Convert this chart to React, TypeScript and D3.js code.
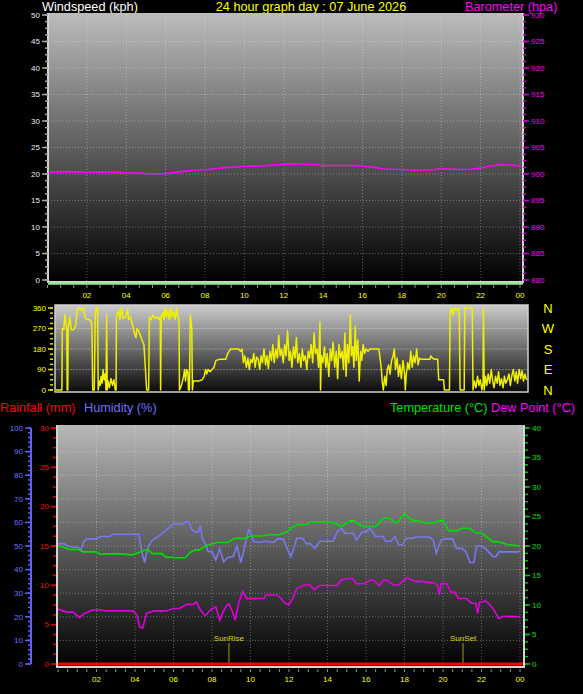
import React from "react";
import * as d3 from "d3";

const W = 583;
const H = 694;
const FONT = "Liberation Sans, Arial, sans-serif";

// ---- tick labels ----
const hourTicks = [2, 4, 6, 8, 10, 12, 14, 16, 18, 20, 22, 24];
const hourLabels = ["02", "04", "06", "08", "10", "12", "14", "16", "18", "20", "22", "00"];
const windSpeedTicks = [0, 5, 10, 15, 20, 25, 30, 35, 40, 45, 50];
const baroTicks = [880, 885, 890, 895, 900, 905, 910, 915, 920, 925, 930];
const dirTicks = [0, 90, 180, 270, 360];
const compassLabels = ["N", "E", "S", "W", "N"];
const humidityTicks = [0, 10, 20, 30, 40, 50, 60, 70, 80, 90, 100];
const rainTicks = [0, 5, 10, 15, 20, 25, 30];
const tempTicks = [0, 5, 10, 15, 20, 25, 30, 35, 40];

// ---- top chart ----
const windSpeedHours = [0, 24];
const windSpeedValues = [0, 0];

const baroHours = [0, 0.5, 1, 1.5, 2, 2.5, 3, 3.5, 4, 4.5, 5, 5.5, 6, 6.5, 7, 7.5, 8, 8.5, 9, 9.5, 10, 10.5, 11, 11.5, 12, 12.5, 13, 13.5, 14, 14.5, 15, 15.5, 16, 16.5, 17, 17.5, 18, 18.5, 19, 19.5, 20, 20.5, 21, 21.5, 22, 22.5, 23, 23.5, 24];
const baroValues = [900.3, 900.4, 900.45, 900.4, 900.3, 900.35, 900.35, 900.3, 900.25, 900.25, 900.1, 900.0, 900.1, 900.3, 900.55, 900.7, 900.8, 901.0, 901.2, 901.3, 901.45, 901.45, 901.55, 901.7, 901.8, 901.95, 901.85, 901.8, 901.6, 901.6, 901.6, 901.6, 901.5, 901.3, 901.0, 900.9, 900.85, 900.7, 900.7, 900.8, 901.0, 900.95, 900.85, 900.9, 901.1, 901.5, 901.75, 901.7, 901.5];

// ---- wind direction ----
const windDirHours = [
  0, 0.3, 0.32, 0.4, 0.45, 0.5, 0.55, 0.57, 0.6, 0.62, 0.7, 0.78, 0.9, 1.0, 1.08, 1.2, 1.3, 1.4, 1.48, 1.55, 1.7, 1.8, 1.83, 1.87, 1.95,
  2.0, 2.05, 2.12, 2.15, 2.2, 2.25, 2.3, 2.35, 2.4, 2.45, 2.5, 2.55, 2.58, 2.61, 2.65, 2.72, 2.8, 2.88, 2.95, 3.02, 3.06, 3.08, 3.2, 3.25,
  3.35, 3.4, 3.55, 3.65, 3.7, 3.8, 3.85, 3.95, 4.02, 4.08, 4.12, 4.2, 4.3, 4.4, 4.48, 4.55, 4.62, 4.72, 4.76, 4.85, 4.95, 5.05, 5.15, 5.25,
  5.31, 5.33, 5.36, 5.45, 5.5, 5.55, 5.62, 5.7, 5.78, 5.85, 5.92, 6.0, 6.08, 6.15, 6.22, 6.27, 6.29, 6.35, 6.42, 6.5, 6.55, 6.6, 6.66, 6.72,
  6.75, 6.8, 6.84, 6.88, 6.92, 6.95, 7.0, 7.3, 7.45, 7.55, 7.62, 7.68, 7.75, 7.85, 7.95, 8.05, 8.15, 8.35, 8.65, 8.75, 8.9, 9.3, 9.4, 9.48,
  9.55, 9.62, 9.7, 9.78, 9.85, 9.92, 10.0, 10.08, 10.15, 10.22, 10.3, 10.38, 10.45, 10.52, 10.6, 10.68, 10.75, 10.82, 10.9, 10.98, 11.05,
  11.12, 11.2, 11.28, 11.35, 11.42, 11.5, 11.58, 11.65, 11.72, 11.8, 11.88, 11.95, 12.02, 12.1, 12.18, 12.25, 12.32, 12.4, 12.48, 12.55,
  12.62, 12.7, 12.78, 12.85, 12.92, 13.0, 13.08, 13.15, 13.22, 13.3, 13.38, 13.45, 13.48, 13.52, 13.6, 13.68, 13.75, 13.82, 13.9, 13.98,
  14.05, 14.12, 14.2, 14.28, 14.35, 14.42, 14.5, 14.58, 14.65, 14.72, 14.78, 14.85, 14.92, 15.0, 15.05, 15.12, 15.18, 15.25, 15.3, 15.38,
  15.45, 15.52, 15.58, 15.65, 15.72, 15.8, 15.9, 16.0, 16.45, 16.5, 16.58, 16.62, 16.68, 16.75, 16.82, 16.88, 16.95, 17.02, 17.1, 17.18,
  17.24, 17.3, 17.38, 17.45, 17.52, 17.6, 17.68, 17.75, 17.8, 17.85, 17.92, 18.0, 18.08, 18.15, 18.22, 18.3, 18.38, 18.45, 18.52, 18.6,
  19.05, 19.1, 19.18, 19.3, 19.45, 19.5, 19.75, 19.79, 20.05, 20.08, 20.15, 20.22, 20.3, 20.4, 20.5, 20.55, 20.59, 20.8, 20.83, 21.18,
  21.21, 21.25, 21.32, 21.4, 21.48, 21.55, 21.62, 21.7, 21.76, 21.78, 21.82, 21.88, 21.95, 22.02, 22.1, 22.18, 22.25, 22.32, 22.4, 22.48,
  22.55, 22.62, 22.7, 22.78, 22.85, 22.92, 23.0, 23.08, 23.15, 23.22, 23.3, 23.38, 23.45, 23.52, 23.6, 23.68, 23.75, 23.82, 23.9, 23.95, 24.0,
];
const windDirValues = [
  0, 0, 270, 265, 330, 300, 270, 0, 0, 270, 320, 265, 265, 280, 350, 360, 350, 360, 320, 310, 310, 300, 270, 0, 0,
  330, 360, 360, 0, 40, 20, 60, 30, 90, 45, 70, 0, 330, 0, 40, 10, 50, 20, 45, 0, 0, 320, 350, 310,
  360, 315, 320, 355, 310, 320, 300, 270, 240, 230, 270, 260, 240, 215, 200, 100, 0, 0, 320, 310, 330, 315, 320, 310,
  320, 0, 320, 340, 310, 360, 320, 350, 310, 360, 320, 345, 310, 360, 320, 310, 0, 10, 30, 60, 90, 40, 90, 80,
  0, 0, 330, 300, 270, 0, 40, 40, 45, 60, 90, 70, 90, 80, 90, 100, 130, 135, 135, 160, 180, 180, 170, 180,
  120, 150, 100, 140, 90, 135, 120, 160, 100, 145, 135, 90, 150, 120, 180, 110, 150, 95, 170, 130, 200,
  120, 180, 140, 240, 150, 180, 120, 200, 150, 260, 130, 170, 100, 190, 140, 230, 120, 160, 100, 180,
  130, 150, 90, 170, 140, 200, 120, 250, 160, 180, 100, 300, 0, 150, 120, 190, 100, 160, 60, 180,
  130, 210, 100, 170, 50, 200, 140, 170, 90, 250, 60, 200, 120, 330, 150, 190, 100, 280, 130, 220,
  40, 170, 130, 200, 160, 180, 170, 180, 180, 150, 90, 40, 0, 60, 20, 90, 110, 70, 130, 150,
  180, 90, 140, 60, 110, 50, 130, 80, 0, 70, 120, 90, 170, 100, 150, 120, 180, 110, 140, 135,
  135, 150, 140, 135, 135, 45, 45, 0, 0, 340, 360, 330, 360, 350, 360, 330, 0, 0, 360, 360,
  360, 0, 40, 10, 60, 20, 45, 0, 30, 360, 0, 60, 20, 70, 30, 90, 40, 10, 60, 30,
  80, 20, 50, 10, 60, 30, 45, 70, 20, 60, 90, 40, 80, 30, 90, 50, 85, 40, 70, 50, 45,
];

// ---- bottom chart ----
const rainHours = [0, 24];
const rainValues = [0, 0];

const humidityHours = [0, 0.3, 0.5, 0.8, 1.0, 1.2, 1.35, 1.5, 2.0, 2.2, 2.7, 2.85, 3.5, 4.2, 4.3, 4.4, 4.5, 4.6, 4.7, 4.9, 5.2, 5.5, 5.8, 6.0, 6.5, 6.6, 6.8, 6.95, 7.1, 7.3, 7.4, 7.5, 7.65, 7.8, 8.0, 8.2, 8.4, 8.6, 8.8, 9.1, 9.3, 9.5, 9.7, 9.9, 10.05, 10.15, 10.4, 10.8, 11.2, 11.4, 11.7, 11.9, 12.1, 12.25, 12.4, 12.7, 12.9, 13.1, 13.35, 13.6, 13.8, 14.3, 14.5, 14.75, 14.9, 15.35, 15.5, 15.8, 16.0, 16.2, 16.5, 16.9, 17.0, 17.3, 17.5, 17.7, 17.9, 18.1, 18.4, 18.6, 19.3, 19.5, 19.65, 19.9, 20.1, 20.5, 20.7, 21.0, 21.2, 21.4, 21.6, 21.75, 22.0, 22.2, 22.6, 22.75, 22.9, 23.9, 24.0];
const humidityValues = [51, 51, 50, 49.5, 49.5, 48.5, 52, 53, 53, 54, 54, 55, 55, 55, 50, 46, 43, 47, 50, 52.5, 54, 56, 58, 59.3, 59.3, 60.3, 60.3, 57, 56, 56, 58.7, 53, 51, 47.6, 47.6, 44, 49, 43.3, 45, 45.5, 50, 43, 50, 56.8, 55, 52, 51.5, 52, 51.5, 53, 53, 49, 45.5, 49, 53.3, 53.3, 51, 51, 49, 52, 52, 52, 56, 57.5, 55.4, 55.4, 52.5, 56, 56, 57.5, 54, 54, 52, 52, 54, 50.5, 50.5, 53.3, 53.3, 53.8, 53.8, 52.5, 47, 52.5, 53, 53, 49, 49, 47.5, 43, 43, 50, 50, 49, 45.5, 45.5, 47.5, 47.5, 48];

const tempHours = [0, 0.3, 0.6, 1.1, 1.3, 2.0, 2.2, 3.0, 3.9, 4.2, 4.5, 4.7, 4.9, 5.4, 5.6, 5.9, 6.1, 6.6, 6.9, 7.1, 7.3, 7.8, 8.3, 8.8, 9.2, 9.7, 10.0, 10.6, 11.0, 11.5, 11.9, 12.1, 12.4, 12.9, 13.1, 13.8, 14.0, 14.3, 14.7, 15.2, 15.35, 15.8, 16.0, 16.5, 16.9, 17.2, 17.6, 18.0, 18.4, 18.7, 19.1, 19.5, 19.8, 20.0, 20.3, 20.7, 21.0, 21.4, 21.7, 22.0, 22.6, 22.9, 23.4, 24.0];
const tempValues = [20.0, 19.8, 19.4, 19.4, 19.0, 19.0, 18.6, 18.7, 18.5, 18.9, 19.3, 19.3, 18.7, 18.7, 18.1, 18.1, 18.0, 18.0, 19.0, 19.3, 19.3, 20.2, 20.6, 20.6, 21.3, 21.3, 21.7, 21.7, 21.9, 21.9, 22.4, 23.0, 23.6, 23.6, 24.1, 24.1, 24.0, 24.0, 23.3, 24.3, 24.3, 23.3, 23.3, 23.3, 24.7, 24.7, 23.9, 25.5, 24.3, 24.3, 23.9, 23.9, 24.3, 24.3, 22.6, 22.6, 23.0, 23.0, 22.2, 22.2, 20.7, 20.7, 20.2, 20.0];

const dewHours = [0, 0.45, 0.8, 1.1, 1.4, 1.8, 2.2, 2.5, 3.9, 4.1, 4.25, 4.4, 4.6, 5.0, 5.6, 6.0, 6.3, 6.7, 7.0, 7.2, 7.4, 7.6, 7.7, 7.9, 8.2, 8.4, 8.6, 8.8, 8.9, 9.1, 9.2, 9.4, 9.6, 9.8, 10.7, 10.8, 11.4, 11.5, 11.8, 12.0, 12.2, 12.4, 12.8, 13.1, 13.3, 13.6, 14.5, 14.7, 15.0, 15.3, 15.5, 15.9, 16.2, 16.4, 16.7, 16.9, 17.1, 17.4, 17.7, 18.1, 18.6, 18.9, 19.2, 19.5, 19.7, 19.8, 19.9, 20.2, 20.4, 20.6, 20.8, 21.2, 21.5, 21.7, 21.8, 21.9, 22.1, 22.2, 22.6, 22.9, 23.1, 24.0];
const dewValues = [9.3, 8.8, 8.8, 7.85, 8.6, 9.15, 9.15, 9.0, 9.0, 8.3, 6.2, 6.1, 8.6, 9.0, 9.0, 9.4, 9.4, 10.1, 10.1, 10.5, 9.15, 8.3, 8.3, 9.15, 9.7, 7.45, 9.0, 10.1, 10.1, 8.6, 7.45, 10.5, 12.25, 11.1, 11.1, 11.7, 11.7, 11.4, 10.3, 10.0, 11.2, 12.8, 13.4, 13.4, 12.6, 13.3, 13.3, 14.2, 14.5, 14.5, 13.6, 13.6, 14.2, 14.2, 13.3, 14.2, 14.2, 13.4, 13.4, 14.6, 14.0, 14.0, 13.8, 13.8, 13.4, 11.7, 13.6, 13.6, 12.2, 12.2, 11.1, 11.1, 10.3, 10.3, 8.6, 10.5, 10.5, 10.8, 9.4, 7.7, 8.1, 8.0];

const sunLabels = ["SunRise", "SunSet"];
const sunHours = [8.88, 21.04];

type Scale = d3.ScaleLinear<number, number>;

function seriesPath(hours: number[], values: number[], xs: Scale, ys: Scale) {
  return (
    d3
      .line<number>()
      .x((_, i) => xs(hours[i]))
      .y((v) => ys(v))(values) || ""
  );
}

interface VAxisProps {
  scale: Scale;
  majors: number[];
  minorStep: number;
  x: number;
  side: "left" | "right";
  tickColor: string;
  labelColor: string;
  majorLen?: number;
  minorLen?: number;
  labels?: string[];
}

function VAxis({ scale, majors, minorStep, x, side, tickColor, labelColor, majorLen = 6, minorLen = 3, labels }: VAxisProps) {
  const [d0, d1] = scale.domain();
  const minors = d3.range(d0, d1 + 1e-6, minorStep);
  const dir = side === "left" ? -1 : 1;
  return (
    <g>
      {minors.map((v, i) => (
        <line key={"m" + i} x1={x} x2={x + dir * minorLen} y1={scale(v)} y2={scale(v)} stroke={tickColor} strokeWidth={1.5} />
      ))}
      {majors.map((v, i) => (
        <g key={"M" + i}>
          <line x1={x} x2={x + dir * majorLen} y1={scale(v)} y2={scale(v)} stroke={tickColor} strokeWidth={1.5} />
          <text
            x={x + dir * (majorLen + 2)}
            y={scale(v)}
            dy="0.35em"
            textAnchor={side === "left" ? "end" : "start"}
            fill={labelColor}
            fontSize={8}
          >
            {labels ? labels[i] : v}
          </text>
        </g>
      ))}
    </g>
  );
}

interface PlotFrameProps {
  id: string;
  x0: number;
  x1: number;
  y0: number;
  y1: number;
  top: string;
  bottom: string;
}

function PlotFrame({ id, x0, x1, y0, y1, top, bottom }: PlotFrameProps) {
  return (
    <g>
      <defs>
        <linearGradient id={id} x1="0" y1="0" x2="0" y2="1">
          <stop offset="0%" stopColor={top} />
          <stop offset="100%" stopColor={bottom} />
        </linearGradient>
      </defs>
      <rect x={x0} y={y0} width={x1 - x0} height={y1 - y0} fill={`url(#${id})`} />
    </g>
  );
}

function Border({ x0, x1, y0, y1 }: { x0: number; x1: number; y0: number; y1: number }) {
  return (
    <path
      d={`M${x0},${y0} L${x0},${y1} L${x1},${y1} L${x1},${y0}`}
      fill="none"
      stroke="#d4d4d4"
      strokeWidth={2}
    />
  );
}

export default function App() {
  // top chart
  const topBox = { x0: 48, x1: 523, y0: 13, y1: 282 };
  const xTop = d3.scaleLinear().domain([0, 24]).range([47.5, 520]);
  const yWind = d3.scaleLinear().domain([0, 50]).range([280, 15]);
  const yBaro = d3.scaleLinear().domain([880, 930]).range([280, 15]);

  // middle chart
  const midBox = { x0: 55, x1: 528, y0: 305, y1: 392 };
  const xMid = d3.scaleLinear().domain([0, 24]).range([56, 527]);
  const yDir = d3.scaleLinear().domain([0, 360]).range([390, 308]);

  // bottom chart
  const botBox = { x0: 57, x1: 524, y0: 425, y1: 667 };
  const xBot = d3.scaleLinear().domain([0, 24]).range([58, 520]);
  const yHum = d3.scaleLinear().domain([0, 100]).range([664, 428]);
  const yRain = d3.scaleLinear().domain([0, 30]).range([664, 428]);
  const yTemp = d3.scaleLinear().domain([0, 40]).range([664, 428]);

  const grid = { stroke: "#ffffff", strokeOpacity: 0.32, strokeDasharray: "1 2", strokeWidth: 1 };

  const topMinorX = d3.range(0, 24.01, 2 / 3);
  const botMinorX = d3.range(0, 24.01, 0.5);
  const head = 12.7;

  return (
    <>
      <style>{`body{margin:0;background:#000}`}</style>
      <svg width={W} height={H} style={{ display: "block", background: "#000", fontFamily: FONT }}>
        <rect width={W} height={H} fill="#000" />

        {/* ---------- top chart ---------- */}
        <text x={42} y={10.5} fill="#ffffff" fontSize={head}>Windspeed (kph)</text>
        <text x={311} y={10.5} fill="#ffff00" fontSize={head} textAnchor="middle">24 hour graph day : 07 June 2026</text>
        <text x={465} y={10.5} fill="#ff00ff" fontSize={head}>Barometer (hpa)</text>

        <PlotFrame id="gTop" {...topBox} top="#bcbcbc" bottom="#000000" />
        {windSpeedTicks.slice(1, -1).map((v) => (
          <line key={"gw" + v} x1={topBox.x0} x2={topBox.x1} y1={yWind(v)} y2={yWind(v)} {...grid} />
        ))}
        {hourTicks.map((h) => (
          <line key={"gv" + h} x1={xTop(h)} x2={xTop(h)} y1={topBox.y0} y2={topBox.y1} {...grid} />
        ))}
        <path d={seriesPath(baroHours, baroValues, xTop, yBaro)} fill="none" stroke="#ff00ff" strokeWidth={1.6} />
        <Border {...topBox} />
        <path
          d={seriesPath(windSpeedHours, windSpeedValues, d3.scaleLinear().domain([0, 24]).range([topBox.x0, topBox.x1]), yWind.copy().range([283.5, 18.5]))}
          fill="none"
          stroke="#90e890"
          strokeWidth={2.5}
        />
        <VAxis scale={yWind} majors={windSpeedTicks} minorStep={1.25} x={48} side="left" tickColor="#a8a8a8" labelColor="#e4ecff" />
        <VAxis scale={yBaro} majors={baroTicks} minorStep={1.25} x={523} side="right" tickColor="#d000d0" labelColor="#ff00ff" />
        {topMinorX.map((h, i) => (
          <line key={"tx" + i} x1={xTop(h)} x2={xTop(h)} y1={285} y2={288} stroke="#909090" strokeWidth={1} />
        ))}
        {hourTicks.map((h, i) => (
          <text key={"tl" + h} x={xTop(h)} y={298} fill="#ffff00" fontSize={8} textAnchor="middle">{hourLabels[i]}</text>
        ))}

        {/* ---------- wind direction ---------- */}
        <PlotFrame id="gMid" {...midBox} top="#cccccc" bottom="#0a0a0a" />
        {dirTicks.slice(1, -1).map((v) => (
          <line key={"gd" + v} x1={midBox.x0} x2={midBox.x1} y1={yDir(v)} y2={yDir(v)} stroke="#ffffff" strokeOpacity={0.3} strokeDasharray="2 1" />
        ))}
        <path d={seriesPath(windDirHours, windDirValues, xMid, yDir)} fill="none" stroke="#f0f000" strokeWidth={1.5} strokeLinejoin="round" />
        <rect x={midBox.x0} y={midBox.y0} width={midBox.x1 - midBox.x0} height={midBox.y1 - midBox.y0} fill="none" stroke="#cfcfcf" strokeWidth={1.5} />
        <VAxis scale={yDir} majors={dirTicks} minorStep={22.5} x={53} side="left" tickColor="#e0e000" labelColor="#ffff00" majorLen={5} minorLen={3} />
        {dirTicks.map((v, i) => (
          <text key={"c" + i} x={548} y={yDir(v)} dy="0.36em" fill="#ffff00" fontSize={13} textAnchor="middle">{compassLabels[i]}</text>
        ))}

        {/* ---------- bottom chart ---------- */}
        <text x={0} y={412} fill="#ff0000" fontSize={head}>Rainfall (mm)</text>
        <text x={84} y={412} fill="#7070ff" fontSize={head}>Humidity (%)</text>
        <text x={390} y={412} fill="#00e000" fontSize={head}>Temperature (°C)</text>
        <text x={491} y={412} fill="#ff00ff" fontSize={head}>Dew Point (°C)</text>

        <PlotFrame id="gBot" {...botBox} top="#b8b8b8" bottom="#000000" />
        {humidityTicks.slice(1, -1).map((v) => (
          <line key={"gh" + v} x1={botBox.x0} x2={botBox.x1} y1={yHum(v)} y2={yHum(v)} {...grid} />
        ))}
        {hourTicks.map((h) => (
          <line key={"gb" + h} x1={xBot(h)} x2={xBot(h)} y1={botBox.y0} y2={botBox.y1} {...grid} />
        ))}
        {sunHours.map((h, i) => (
          <g key={"sun" + i}>
            <line x1={xBot(h)} x2={xBot(h)} y1={643} y2={botBox.y1} stroke="#a0a000" strokeWidth={1} />
            <text x={xBot(h)} y={641} fill="#d8d800" fontSize={8} textAnchor="middle">{sunLabels[i]}</text>
          </g>
        ))}
        <path d={seriesPath(humidityHours, humidityValues, xBot, yHum)} fill="none" stroke="#7878f0" strokeWidth={1.6} />
        <path d={seriesPath(tempHours, tempValues, xBot, yTemp)} fill="none" stroke="#00e000" strokeWidth={1.6} />
        <path d={seriesPath(dewHours, dewValues, xBot, yTemp)} fill="none" stroke="#e000e0" strokeWidth={1.6} />
        <path
          d={seriesPath(rainHours, rainValues, d3.scaleLinear().domain([0, 24]).range([botBox.x0, botBox.x1]), yRain)}
          fill="none"
          stroke="#ff0000"
          strokeWidth={3}
        />
        <Border {...botBox} />

        <line x1={31} x2={31} y1={yHum(100)} y2={yHum(0)} stroke="#6060ff" strokeWidth={2} />
        <VAxis scale={yHum} majors={humidityTicks} minorStep={2} x={31} side="left" tickColor="#6060ff" labelColor="#7070ff" majorLen={6} minorLen={3} />
        <VAxis scale={yRain} majors={rainTicks} minorStep={1.25} x={56} side="left" tickColor="#e00000" labelColor="#ff0000" majorLen={5} minorLen={3} />
        <VAxis scale={yTemp} majors={tempTicks} minorStep={1.25} x={525} side="right" tickColor="#00c000" labelColor="#00e000" majorLen={5} minorLen={3} />
        {botMinorX.map((h, i) => (
          <line key={"bx" + i} x1={xBot(h)} x2={xBot(h)} y1={669} y2={672} stroke="#909090" strokeWidth={1} />
        ))}
        {hourTicks.map((h, i) => (
          <text key={"bl" + h} x={xBot(h)} y={682} fill="#ffff00" fontSize={8} textAnchor="middle">{hourLabels[i]}</text>
        ))}
      </svg>
    </>
  );
}
